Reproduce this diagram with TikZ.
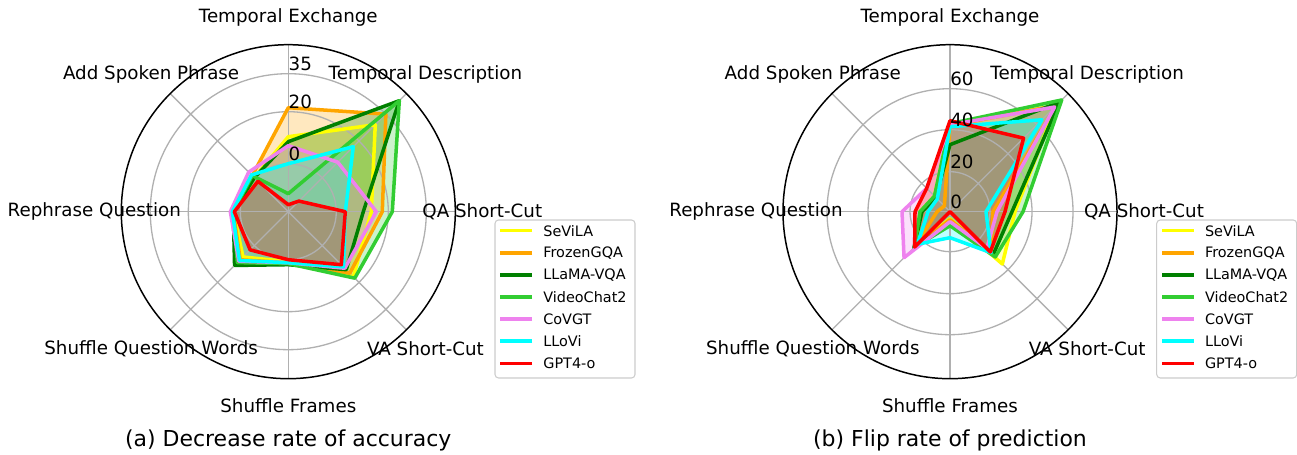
\documentclass[tikz,border=0pt]{standalone}
\usepackage{fontspec}
\setmainfont{DejaVu Sans}
\usepackage{xcolor}
\usepackage{tikz}
\usetikzlibrary{positioning}

\definecolor{mplgrid}{HTML}{B0B0B0}
\definecolor{sevila}{HTML}{FFFF00}
\definecolor{frozengqa}{HTML}{FFA500}
\definecolor{llamavqa}{HTML}{008000}
\definecolor{videochat}{HTML}{32CD32}
\definecolor{covgt}{HTML}{EE82EE}
\definecolor{llovi}{HTML}{00FFFF}
\definecolor{gptfour}{HTML}{FF0000}

\begin{document}
\begin{tikzpicture}[
    x=0.02cm, y=0.02cm,
    grid line/.style={draw=mplgrid, line width=0.75pt},
    rim/.style={draw=black, line width=0.85pt},
    series fill/.style={fill=#1, fill opacity=0.25},
    series line/.style={draw=#1, line width=2pt, line join=round},
    axis label/.style={font=\fontsize{10.4}{12}\selectfont, inner sep=0pt},
    tick label/.style={font=\fontsize{10.4}{12}\selectfont, inner sep=0pt, anchor=base west},
    legend box/.style={draw=black!20, fill=white, rounded corners=2pt, line width=0.6pt},
    legend entry/.style={font=\fontsize{8.2}{10}\selectfont, inner sep=0pt, anchor=west},
    caption/.style={font=\fontsize{12.5}{15}\selectfont, inner sep=0pt},
]
\useasboundingbox (0,0) rectangle (1297,455);

% axes: te td qa va sf sq rq as, radii in px
\def\accdata{sevila/75/123/83/92/50/64/55/48, frozengqa/104/138/94/87/51/68/55/51,
    llamavqa/70/157/75/82/53/76/55/48, videochat/18/157/104/94/52/72/55/51,
    covgt/66/70/88/80/51/70/58/56, llovi/48/92/57/78/51/69/56/52, gptfour/7/15/57/75/48/54/54/43}
\def\flipdata{sevila/87/150/65/74/7/48/30/22, frozengqa/86/150/43/58/8/50/13/8,
    llamavqa/67/155/62/61/12/51/28/20, videochat/88/158/73/64/14/50/30/22,
    covgt/87/148/47/52/10/65/48/33, llovi/85/130/36/58/26/46/22/18, gptfour/91/104/55/57/0/50/35/33}
\def\models{sevila/SeViLA, frozengqa/FrozenGQA, llamavqa/LLaMA-VQA, videochat/VideoChat2, covgt/CoVGT, llovi/LLoVi, gptfour/GPT4-o}

% (a) decrease rate of accuracy
\begin{scope}[shift={(288.3,243.3)}]
\coordinate (ca) at (0,0);
\foreach \col/\ra/\rb/\rc/\rd/\re/\rf/\rg/\rh in \accdata {
    \fill[series fill=\col] (90:\ra) -- (45:\rb) -- (0:\rc) -- (-45:\rd) -- (-90:\re) -- (-135:\rf) -- (180:\rg) -- (135:\rh) -- cycle;
}
\foreach \r in {48,100,138} {
    \draw[grid line] (ca) circle (\r);
}
\foreach \ang in {0,45,...,315} {
    \draw[grid line] (ca) -- (\ang:167);
}
\foreach \col/\ra/\rb/\rc/\rd/\re/\rf/\rg/\rh in \accdata {
    \draw[series line=\col] (90:\ra) -- (45:\rb) -- (0:\rc) -- (-45:\rd) -- (-90:\re) -- (-135:\rf) -- (180:\rg) -- (135:\rh) -- cycle;
}
\draw[rim] (ca) circle (167);
\foreach \r/\v in {48/0, 100/20, 138/35} {
    \node[tick label] (ta-\v) at (0,\r+3.5) {\v};
}
\foreach \ang/\key/\txt in {90/te/Temporal Exchange, 45/td/Temporal Description, 0/qa/QA Short-Cut, -45/va/VA Short-Cut,
    -90/sf/Shuffle Frames, -135/sq/Shuffle Question Words, 180/rq/Rephrase Question, 135/as/Add Spoken Phrase} {
    \node[axis label] (a-\key) at (\ang:194) {\txt};
}
\draw[legend box] (206.7,-166.3) rectangle (346.7,-8.3);
\foreach \col/\name [count=\k from 0] in \models {
    \node[legend entry] (key-a-\col) at (254.7,{-19-22.1*\k}) {\name};
    \draw[series line=\col] ([xshift=-0.22cm]key-a-\col.west) -- ++(-32,0);
}
\node[caption] (cap-a) at (0,-228.3) {(a) Decrease rate of accuracy};
\end{scope}

% (b) flip rate of prediction
\begin{scope}[shift={(950,243.3)}]
\coordinate (cb) at (0,0);
\foreach \col/\ra/\rb/\rc/\rd/\re/\rf/\rg/\rh in \flipdata {
    \fill[series fill=\col] (90:\ra) -- (45:\rb) -- (0:\rc) -- (-45:\rd) -- (-90:\re) -- (-135:\rf) -- (180:\rg) -- (135:\rh) -- cycle;
}
\foreach \r in {40,82,123} {
    \draw[grid line] (cb) circle (\r);
}
\foreach \ang in {0,45,...,315} {
    \draw[grid line] (cb) -- (\ang:167);
}
\foreach \col/\ra/\rb/\rc/\rd/\re/\rf/\rg/\rh in \flipdata {
    \draw[series line=\col] (90:\ra) -- (45:\rb) -- (0:\rc) -- (-45:\rd) -- (-90:\re) -- (-135:\rf) -- (180:\rg) -- (135:\rh) -- cycle;
}
\draw[rim] (cb) circle (167);
\foreach \r/\v in {0/0, 40/20, 82/40, 123/60} {
    \node[tick label] (tb-\v) at (0,\r+3.5) {\v};
}
\foreach \ang/\key/\txt in {90/te/Temporal Exchange, 45/td/Temporal Description, 0/qa/QA Short-Cut, -45/va/VA Short-Cut,
    -90/sf/Shuffle Frames, -135/sq/Shuffle Question Words, 180/rq/Rephrase Question, 135/as/Add Spoken Phrase} {
    \node[axis label] (b-\key) at (\ang:194) {\txt};
}
\draw[legend box] (206.7,-166.3) rectangle (346.7,-8.3);
\foreach \col/\name [count=\k from 0] in \models {
    \node[legend entry] (key-b-\col) at (254.7,{-19-22.1*\k}) {\name};
    \draw[series line=\col] ([xshift=-0.22cm]key-b-\col.west) -- ++(-32,0);
}
\node[caption] (cap-b) at (0,-228.3) {(b) Flip rate of prediction};
\end{scope}

\end{tikzpicture}
\end{document}
